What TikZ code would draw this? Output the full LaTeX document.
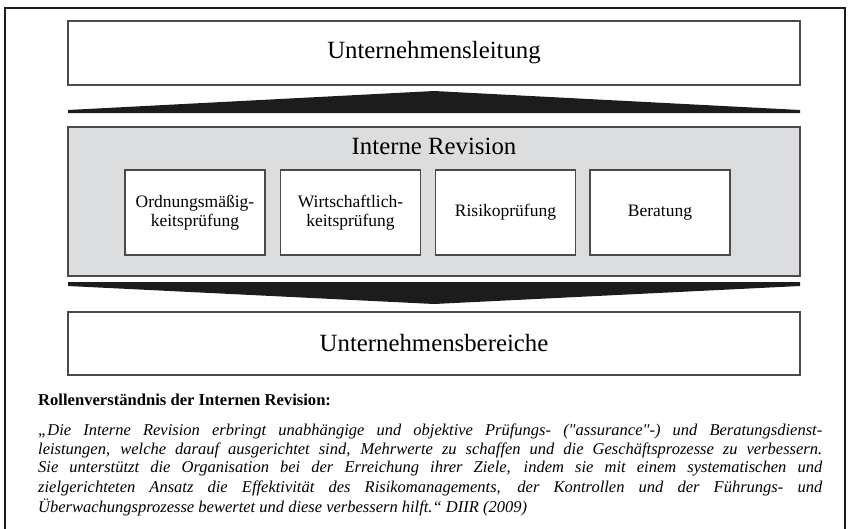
\documentclass[tikz,border=0pt]{standalone}
\usepackage{fontspec}
\setmainfont{Liberation Serif}
\definecolor{panelgrey}{HTML}{DCDDDE}
\definecolor{edgegrey}{HTML}{4A4A4A}
\definecolor{wedgeblack}{HTML}{1C1C1C}
\begin{document}
\begin{tikzpicture}[x=1pt,y=-1pt,
  frameline/.style={line width=2.4pt, draw=wedgeblack},
  bigbox/.style={draw=edgegrey, fill=white, line width=1.4pt, minimum width=732pt, inner sep=0pt, font=\fontsize{24.8}{28}\selectfont},
  greybox/.style={draw=edgegrey, fill=panelgrey, line width=1.4pt, minimum width=732pt, inner sep=0pt},
  subbox/.style={draw=edgegrey, fill=white, line width=1.3pt, minimum width=140pt, minimum height=85pt, inner sep=0pt, align=center, font=\fontsize{17.5}{19}\selectfont},
  wedge/.style={fill=wedgeblack},
  quoteline/.style={anchor=west, inner sep=0pt, font=\itshape\fontsize{16.5}{18}\selectfont}
]
\useasboundingbox (0,0) rectangle (858,528);
% frame
\draw[frameline] (5,540) -- (5,8) -- (845,8) -- (845,540);
% top box
\node[bigbox, minimum height=64pt] (lead) at (434,53) {Unternehmensleitung};
% upward wedge
\fill[wedge] (68,113) -- (68,110) -- (434,91) -- (800,110) -- (800,113) -- cycle;
% internal audit panel
\node[greybox, minimum height=149pt] (ir) at (434,201.5) {};
\node[inner sep=0pt, font=\fontsize{24.8}{28}\selectfont] (irt) at (434,146) {Interne Revision};
\node[subbox] (s1) at (195,212.5) {Ordnungsmäßig-\\keitsprüfung};
\node[subbox] (s2) at (350.5,212.5) {Wirtschaftlich-\\keitsprüfung};
\node[subbox] (s3) at (505.5,212.5) {Risikoprüfung};
\node[subbox] (s4) at (660,212.5) {Beratung};
% downward wedge
\fill[wedge] (68,282) -- (800,282) -- (800,286) -- (434,304) -- (68,286) -- cycle;
% bottom box
\node[bigbox, minimum height=63pt] (units) at (434,343.5) {Unternehmensbereiche};
% text
\node[anchor=west, inner sep=0pt, font=\bfseries\fontsize{16.6}{19}\selectfont] (head) at (38,400) {Rollenverständnis der Internen Revision:};
\node[quoteline] (q1) at (38,431) {\makebox[784pt][s]{„Die Interne Revision erbringt unabhängige und objektive Prüfungs- (\textquotedbl assurance\textquotedbl -) und Beratungsdienst-}};
\node[quoteline] (q2) at (38,450) {\makebox[784pt][s]{leistungen, welche darauf ausgerichtet sind, Mehrwerte zu schaffen und die Geschäftsprozesse zu verbessern.}};
\node[quoteline] (q3) at (38,469) {\makebox[784pt][s]{Sie unterstützt die Organisation bei der Erreichung ihrer Ziele, indem sie mit einem systematischen und}};
\node[quoteline] (q4) at (38,488) {\makebox[784pt][s]{zielgerichteten Ansatz die Effektivität des Risikomanagements, der Kontrollen und der Führungs- und}};
\node[quoteline] (q5) at (38,507) {Überwachungsprozesse bewertet und diese verbessern hilft.“ DIIR (2009)};
\end{tikzpicture}
\end{document}
